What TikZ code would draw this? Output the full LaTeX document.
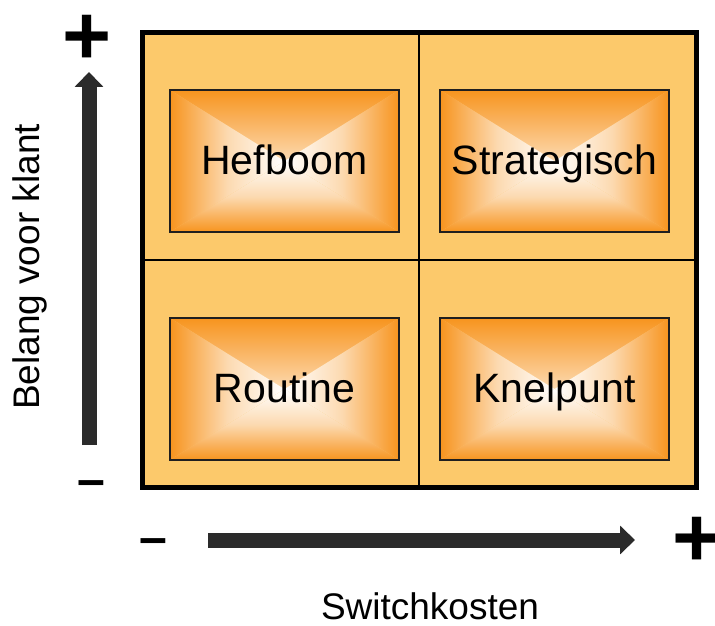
\documentclass[tikz,border=0pt]{standalone}
\usepackage{fontspec}
\setmainfont{Liberation Sans}
\usepackage{tikz}
\usetikzlibrary{arrows.meta, positioning}
\definecolor{PanelOrange}{HTML}{FCC96B}
\definecolor{BoxOrange}{HTML}{F7941E}
\definecolor{ArrowGray}{HTML}{2B2B2B}
\definecolor{EdgeGray}{HTML}{1F1F1F}

\tikzset{
  quadbox/.style={draw=EdgeGray, line width=1.2pt, minimum width=229pt, minimum height=142pt,
    inner sep=0pt, text height=29pt, text depth=3pt,
    font=\fontsize{41}{45}\selectfont,
    path picture={
      \shade[top color=BoxOrange, bottom color=white, middle color=BoxOrange!35]
        (path picture bounding box.north west) -- (path picture bounding box.north east)
        -- (path picture bounding box.center) -- cycle;
      \shade[bottom color=BoxOrange, top color=white, middle color=BoxOrange!35]
        (path picture bounding box.south west) -- (path picture bounding box.south east)
        -- (path picture bounding box.center) -- cycle;
      \shade[left color=BoxOrange, right color=white, middle color=BoxOrange!35]
        (path picture bounding box.north west) -- (path picture bounding box.south west)
        -- (path picture bounding box.center) -- cycle;
      \shade[right color=BoxOrange, left color=white, middle color=BoxOrange!35]
        (path picture bounding box.north east) -- (path picture bounding box.south east)
        -- (path picture bounding box.center) -- cycle;
    }},
  axisarrow/.style={ArrowGray, line width=15pt, -{Triangle[length=15pt, width=28pt]}},
  axislabel/.style={font=\fontsize{37}{40}\selectfont},
  plussign/.style={inner sep=0pt, font=\fontsize{84}{84}\selectfont\bfseries},
  minussign/.style={inner sep=0pt, font=\fontsize{50}{50}\selectfont\bfseries}
}

\begin{document}
\begin{tikzpicture}[x=1pt, y=-1pt]
  \useasboundingbox (0,0) rectangle (715,626);

  % Panel with quadrant lines
  \fill[PanelOrange] (142,33) rectangle (696,487);
  \draw[line width=1.2pt] (419,33) -- (419,487);
  \draw[line width=1.2pt] (142,260) -- (696,260);
  \draw[line width=5pt] (142,33) rectangle (696,487);

  % Quadrants
  \foreach \x/\y/\name/\lbl in {284.5/161/hefboom/Hefboom, 554.5/161/strategisch/Strategisch,
                                 284.5/389/routine/Routine, 554.5/389/knelpunt/Knelpunt}{
    \node[quadbox] (\name) at (\x,\y) {\lbl};
  }

  % Axes
  \coordinate (ylow) at (89,445);
  \coordinate (yhigh) at (89,72);
  \coordinate (xlow) at (208,540);
  \coordinate (xhigh) at (635,540);
  \draw[axisarrow] (ylow) -- (yhigh);
  \draw[axisarrow] (xlow) -- (xhigh);

  \node[plussign] (yplus) at (87,40) {+};
  \node[minussign] (yminus) at (91,489) {–};
  \node[minussign] (xminus) at (153,547) {–};
  \node[plussign] (xplus) at (697,542) {+};

  \node[axislabel, rotate=90] (ylabel) at (30,267) {Belang voor klant};
  \node[axislabel] (xlabel) at (430,606) {Switchkosten};
\end{tikzpicture}
\end{document}
